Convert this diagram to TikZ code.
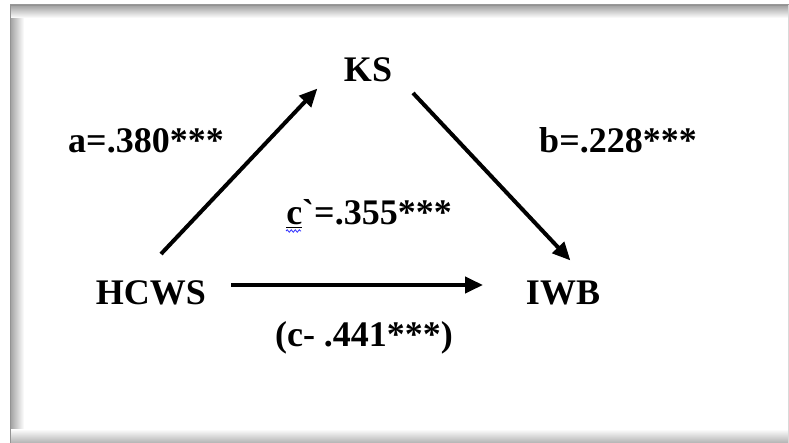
\documentclass[tikz,border=0pt]{standalone}
\usepackage{fontspec}
\setmainfont{Liberation Serif}
\newfontfamily\rawserif{Liberation Serif}[Ligatures=ResetAll]
\usetikzlibrary{arrows.meta,decorations.pathmorphing}
\tikzset{
  lbl/.style={font=\fontsize{36}{40}\selectfont\bfseries, inner sep=0pt, anchor=base},
  conn/.style={line width=4pt, -{Triangle[length=18pt,width=16pt]}, shorten >=-2pt}
}
\begin{document}
\begin{tikzpicture}[x=1pt,y=-1pt]
\useasboundingbox (0,0) rectangle (789,443);
\fill[white] (0,0) rectangle (789,443);
% frame with inner shadow
\shade[left color=gray!75, right color=white] (10,5) rectangle (24,443);
\shade[top color=gray!75, bottom color=white] (10,5) rectangle (789,18);
\shade[top color=white, bottom color=gray!60] (10,429) rectangle (789,443);
\draw[gray!85, line width=0.8pt] (10,443) -- (10,5) -- (789,5);
\draw[gray!30, line width=0.6pt] (788.5,5) -- (788.5,443);
% nodes
\node[lbl] (KS) at (368,82) {KS};
\node[lbl] (HCWS) at (151,305) {HCWS};
\node[lbl] (IWB) at (563,305) {IWB};
\node[lbl] (la) at (146,153) {a=.380***};
\node[lbl] (lb) at (618,153) {b=.228***};
\node[lbl] (lc) at (369,225) {\underline{c}{\rawserif\bfseries\char"0060}=.355***};
\node[lbl] (lt) at (364,346) {(c- .441***)};
% spell-check squiggle
\coordinate (sq1) at (286,231);
\coordinate (sq2) at (301,231);
\draw[blue!80, line width=0.8pt, decorate, decoration={snake, amplitude=1.2pt, segment length=4pt}] (sq1) -- (sq2);
% arrow end points
\coordinate (aS) at (161,254);
\coordinate (aE) at (316,90);
\coordinate (bS) at (413,93);
\coordinate (bE) at (569,259);
\coordinate (cS) at (231,285);
\coordinate (cE) at (481,285);
\draw[conn] (aS) -- (aE);
\draw[conn] (bS) -- (bE);
\draw[conn] (cS) -- (cE);
\end{tikzpicture}
\end{document}
